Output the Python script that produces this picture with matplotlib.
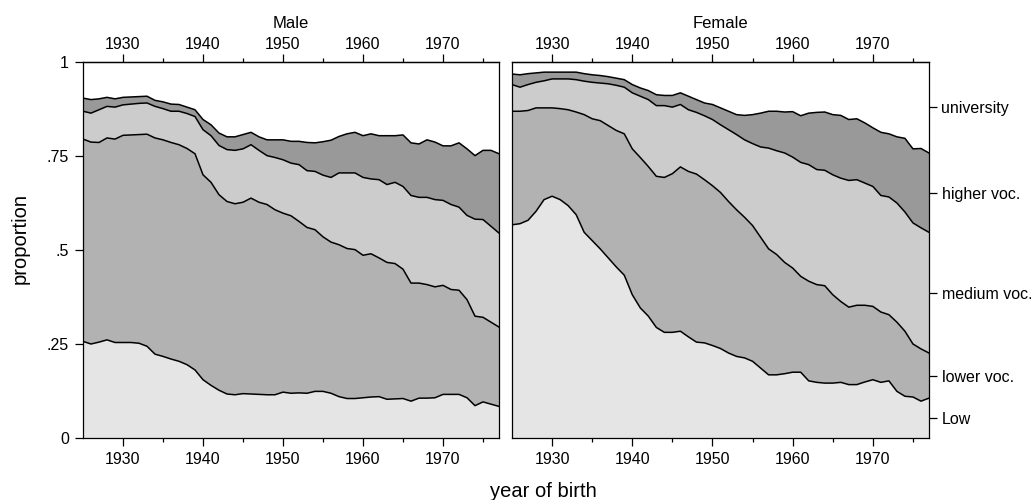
import matplotlib
matplotlib.use('Agg')
import matplotlib.pyplot as plt
import numpy as np

plt.rcParams['font.family'] = ['Liberation Sans', 'DejaVu Sans']

years = np.arange(1925, 1978)

levels = ['Low', 'lower voc.', 'medium voc.', 'higher voc.', 'university']

# cumulative proportions: upper edge of each band (male)
male_low = [.257, .250, .255, .261, .254, .254, .254, .252, .244, .223,
            .217, .210, .204, .195, .181, .155, .140, .127, .117, .115,
            .118, .117, .116, .115, .115, .122, .119, .120, .119, .124,
            .124, .119, .110, .105, .105, .107, .109, .110, .103, .104,
            .105, .098, .106, .106, .107, .116, .116, .116, .107, .086,
            .096, .090, .084]
male_lower = [.795, .787, .786, .798, .795, .805, .806, .807, .808, .798,
              .793, .786, .780, .770, .756, .700, .680, .647, .629, .623,
              .627, .638, .627, .621, .607, .598, .591, .576, .560, .554,
              .535, .521, .514, .504, .501, .486, .490, .479, .467, .464,
              .449, .412, .412, .408, .402, .406, .395, .393, .368, .324,
              .321, .308, .295]
male_medium = [.869, .864, .873, .882, .880, .886, .888, .890, .891, .882,
               .876, .869, .869, .863, .855, .820, .804, .778, .767, .765,
               .769, .780, .765, .751, .746, .740, .731, .727, .711, .709,
               .699, .693, .705, .705, .705, .693, .689, .687, .674, .680,
               .669, .645, .640, .640, .634, .632, .621, .614, .592, .582,
               .581, .563, .545]
male_higher = [.904, .900, .902, .906, .902, .906, .907, .908, .909, .898,
               .894, .888, .887, .880, .873, .847, .833, .811, .801, .801,
               .807, .813, .801, .793, .793, .793, .789, .789, .786, .785,
               .788, .792, .802, .809, .813, .804, .809, .804, .804, .804,
               .806, .785, .782, .793, .787, .777, .777, .785, .769, .751,
               .765, .765, .756]

# female
female_low = [.567, .570, .579, .603, .634, .643, .634, .618, .594, .547,
              .525, .503, .479, .455, .433, .381, .346, .324, .294, .281,
              .281, .284, .269, .255, .253, .246, .238, .226, .217, .213,
              .204, .186, .168, .168, .171, .175, .175, .152, .148, .146,
              .146, .148, .142, .142, .149, .155, .148, .152, .124, .111,
              .109, .098, .106]
female_lower = [.869, .869, .871, .878, .878, .878, .876, .873, .867, .860,
                .849, .844, .831, .818, .809, .769, .746, .722, .696, .693,
                .703, .721, .709, .702, .687, .671, .653, .629, .607, .587,
                .565, .534, .503, .488, .467, .452, .430, .417, .408, .405,
                .381, .363, .348, .353, .353, .350, .335, .328, .308, .284,
                .250, .237, .226]
female_medium = [.940, .933, .940, .946, .950, .955, .955, .955, .953, .949,
                 .946, .944, .942, .938, .933, .918, .909, .900, .884, .884,
                 .880, .887, .873, .866, .857, .847, .833, .820, .807, .793,
                 .783, .774, .771, .764, .758, .747, .733, .727, .714, .712,
                 .700, .691, .685, .687, .678, .669, .645, .641, .625, .601,
                 .572, .559, .547]
female_higher = [.968, .966, .969, .971, .973, .973, .973, .973, .973, .969,
                 .966, .964, .961, .957, .953, .940, .931, .924, .913, .911,
                 .911, .918, .909, .900, .891, .887, .878, .869, .860, .858,
                 .860, .864, .869, .869, .867, .868, .857, .864, .866, .867,
                 .860, .858, .847, .849, .838, .825, .813, .809, .801, .797,
                 .769, .770, .758]

band_colors = ['#e5e5e5', '#b2b2b2', '#cccccc', '#999999']

W, H = 1031, 500
fig = plt.figure(figsize=(W / 100, H / 100), dpi=100)
ax_m = fig.add_axes([83 / W, 62 / H, 416 / W, 376 / H])
ax_f = fig.add_axes([512 / W, 62 / H, 417 / W, 376 / H])

major = np.arange(1930, 1971, 10)
minor = np.arange(1935, 1976, 10)


def draw(ax, cum, title):
    lower = np.zeros(len(years))
    for upper, col in zip(cum, band_colors):
        upper = np.array(upper)
        ax.fill_between(years, lower, upper, facecolor=col, edgecolor='none')
        ax.plot(years, upper, color='black', lw=1.1)
        lower = upper
    ax.set_xlim(1925, 1977)
    ax.set_ylim(0, 1)
    ax.set_xticks(major)
    ax.set_xticks(minor, minor=True)
    ax.tick_params(which='major', length=6, width=0.9, labelsize=11.5, pad=4)
    ax.tick_params(which='minor', length=3, width=0.9)
    for s in ax.spines.values():
        s.set_linewidth(0.9)
    # top axis with the same years, labels sit closer to the frame
    top = ax.secondary_xaxis('top')
    top.set_xticks(major)
    top.set_xticks(minor, minor=True)
    top.tick_params(which='major', length=6, width=0.9, labelsize=11.5, pad=1)
    top.tick_params(which='minor', length=3, width=0.9)
    top.spines['top'].set_linewidth(0.9)
    ax.set_title(title, fontsize=12, pad=7)


draw(ax_m, [male_low, male_lower, male_medium, male_higher], 'Male')
draw(ax_f, [female_low, female_lower, female_medium, female_higher], 'Female')

ax_m.set_yticks([0, .25, .5, .75, 1])
ax_m.set_yticklabels(['0', '.25', '.5', '.75', '1'])

# level labels at the middle of each female band in the last year
ends = [0, female_low[-1], female_lower[-1], female_medium[-1],
        female_higher[-1], 1]
mids = [(a + b) / 2 for a, b in zip(ends[:-1], ends[1:])]
ax_f.yaxis.tick_right()
ax_f.set_yticks(mids)
ax_f.set_yticklabels(levels)
ax_f.tick_params(axis='y', pad=3)

fig.text(543 / W, 3 / H, 'year of birth', ha='center', va='baseline',
         fontsize=14.5)
fig.text(20 / W, 262 / H, 'proportion', rotation=90, ha='center',
         va='center', fontsize=14.5)

fig.savefig('out.png', dpi=100)
